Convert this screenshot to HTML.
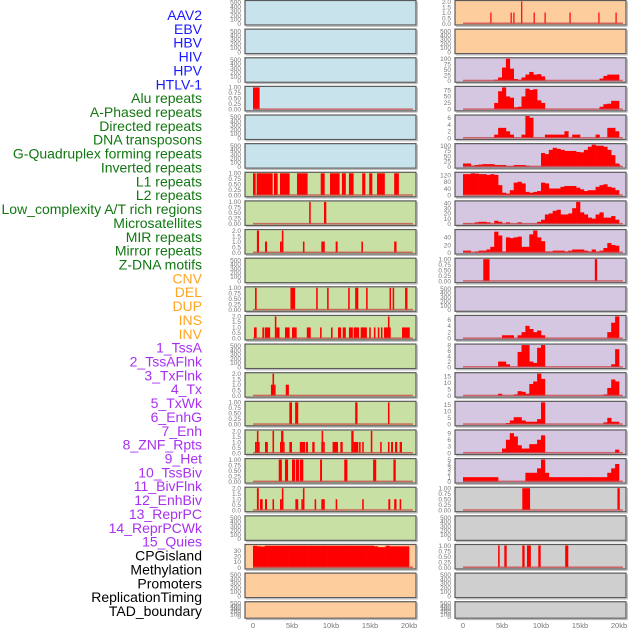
<!DOCTYPE html>
<html><head><meta charset="utf-8"><style>
html,body{margin:0;padding:0;background:#fff;}
svg{display:block;font-family:"Liberation Sans",sans-serif;}
</style></head><body>
<svg id="chart" width="630" height="630" viewBox="0 0 630 630" xmlns="http://www.w3.org/2000/svg"></svg>
<script>
const rowLabels = ["AAV2","EBV","HBV","HIV","HPV","HTLV-1","Alu repeats","A-Phased repeats","Directed repeats","DNA transposons","G-Quadruplex forming repeats","Inverted repeats","L1 repeats","L2 repeats","Low_complexity A/T rich regions","Microsatellites","MIR repeats","Mirror repeats","Z-DNA motifs","CNV","DEL","DUP","INS","INV","1_TssA","2_TssAFlnk","3_TxFlnk","4_Tx","5_TxWk","6_EnhG","7_Enh","8_ZNF_Rpts","9_Het","10_TssBiv","11_BivFlnk","12_EnhBiv","13_ReprPC","14_ReprPCWk","15_Quies","CPGisland","Methylation","Promoters","ReplicationTiming","TAD_boundary"];
const labelGroups = ["v","v","v","v","v","v","r","r","r","r","r","r","r","r","r","r","r","r","r","c","c","c","c","c","h","h","h","h","h","h","h","h","h","h","h","h","h","h","h","o","o","o","o","o"];
const xTicks = [0,5,10,15,20];
const xTickLabels = ["0","5kb","10kb","15kb","20kb"];
const emptyTicks = [0,100,200,300,400,500];
const binTicks = [0,0.25,0.5,0.75,1];
const binTickLabels = ["0.00","0.25","0.50","0.75","1.00"];
const spikeTicks = [0,0.5,1,1.5,2];
const spikeTickLabels = ["0.0","0.5","1.0","1.5","2.0"];

// left column bar data [startKb, endKb, value]
const L3_bars = [[0,0.85,1]];
const L6_bars = [[0,0.34,1],[0.47,2.52,1],[2.69,3.16,1],[3.46,4.7,1],[5.64,7.0,1],[8.68,9.19,1],[9.87,11.1,1],[11.4,11.9,1],[12.3,12.9,1],[14.0,14.4,1],[14.9,15.3,1],[15.9,16.9,1],[18.1,18.7,1]];
const L7_bars = [[7.2,7.4,1],[9.1,9.4,1]];
const L8_bars = [[0.5,0.77,2],[1.54,1.8,1],[3.46,3.7,1],[3.7,3.9,2],[6.4,6.6,1],[8.76,9.2,1],[10.6,10.85,1],[13.9,14.1,1],[18.1,18.4,1]];
const L10_bars = [[0.26,0.47,1],[4.8,5.4,1],[8.1,8.3,1],[9.5,9.7,1],[12.2,12.4,1],[13.1,13.5,1],[14.5,14.7,1],[17.5,17.7,1],[17.9,18.1,1],[19.5,19.8,1]];
const L11_bars = [[0.13,0.47,1],[1.2,1.41,1],[1.5,2.2,1],[2.8,3.0,2],[3.0,3.4,1],[4.1,4.7,1],[5.0,5.6,1],[6.9,7.4,1],[8.6,8.8,1],[10.0,10.2,1],[10.9,11.3,1],[11.5,11.9,1],[12.3,12.8,1],[12.9,13.6,1],[13.8,14.6,1],[14.9,15.1,1],[15.5,15.7,1],[16.0,16.2,1],[16.4,16.6,1],[16.8,17.3,1],[17.3,17.5,2],[17.5,17.6,1],[19.1,20.1,1]];
const L13_bars = [[2.3,2.5,1],[2.5,2.7,2],[2.7,2.9,1],[4.2,4.6,1]];
const L14_bars = [[4.66,5.0,1],[5.4,5.8,1],[13.1,13.4,1],[17.3,17.5,1]];
const L15_bars = [[0.26,0.5,1],[0.5,0.7,2],[0.7,0.77,1],[1.54,1.9,1],[2.5,2.7,2],[3.46,3.6,1],[3.6,3.9,2],[3.9,4.0,1],[4.66,5.0,1],[6.0,6.7,1],[6.8,7.05,1],[7.6,7.9,1],[8.76,8.8,1],[8.8,9.0,2],[9.0,9.2,1],[10.2,10.9,1],[11.2,11.5,1],[12.6,12.9,2],[12.9,13.5,1],[13.6,13.8,1],[14.0,14.2,1],[15.1,15.3,2],[16.3,16.5,1],[17.3,17.5,1],[17.7,17.95,1],[18.2,18.5,1],[18.8,19.1,1]];
const L16_bars = [[3.3,3.7,1],[4.1,4.5,1],[5.0,5.4,1],[5.5,5.9,1],[6.0,6.45,1],[8.6,8.85,1],[11.7,12.1,1],[15.4,15.8,1],[18.0,18.3,1]];
const L17_bars = [[0.5,0.74,2],[0.9,1.24,1],[1.54,1.8,1],[2.5,2.7,1],[3.46,3.7,1],[3.7,3.9,2],[5.43,5.8,1],[6.2,6.4,1],[6.4,6.6,2],[7.9,8.1,1],[8.76,9.2,1],[10.6,10.8,1],[14.0,14.2,1],[17.35,17.6,1],[18.1,18.4,1],[18.8,19.0,1]];
// right column bar data
const R0_bars = [[3.5,3.65,1],[6.1,6.25,1],[6.45,6.6,1],[7.45,7.6,2],[9.05,9.2,1],[10.45,10.6,1],[13.65,13.8,1],[17.35,17.5,1],[19.55,19.7,1]];
const R9_bars = [[2.6,3.4,1],[16.9,17.2,1]];
const R17_bars = [[7.6,8.6,1],[19.8,20.1,1]];
const R19_bars = [[4.5,4.7,1],[5.3,5.6,1],[7.6,7.9,1],[8.2,8.7,1],[9.65,9.96,1],[13.1,13.5,1]];

// histogram data: 41 bins of 0.5kb starting at 0
const L19_hist = [38.5,37.5,37,38.5,38.5,38.5,38.5,38.5,38.5,38.5,38.5,38.5,38.5,38.5,38.5,38.5,38.5,38.5,38.5,38.5,38.5,38.5,38.5,38.5,38.5,38.5,38.5,38.5,38.5,38.5,38.5,37.5,36,36,38.5,37.5,37.5,37.5,37.5,37.5,0];
const R2_hist = [0,0,0,0,0,0,0,0,5,15,60,100,55,8,5,15,28,40,28,30,20,0,0,0,0,0,0,0,0,0,0,0,0,0,0,10,22,28,28,28,0];
const R3_hist = [0,0,0,0,0,0,0,0,25,70,85,50,45,8,10,50,80,75,78,35,25,0,0,0,0,0,0,0,0,0,0,0,0,0,0,10,20,22,33,33,0];
const R4_hist = [0,0,0,0,0,0,0,0,1,3,3,2,1,0,0,1,6.5,6,0,0,0,1,1,1,1,1,2,0,1,1,0,0,0,0,1,0,0,3,3,2,0];
const R5_hist = [15,15,5,8,10,12,12,12,8,8,8,2,2,8,8,8,5,0,0,0,65,60,80,90,85,80,75,75,75,70,68,80,95,105,100,100,95,80,55,15,10];
const R6_hist = [125,125,130,128,125,125,120,125,120,60,15,10,30,75,80,70,20,15,20,25,75,70,40,40,40,50,55,55,55,45,35,25,30,30,50,60,65,50,45,30,0];
const R7_hist = [1,1,0,3,4,4,3,0,6,4,0,3,0,0,3,0,0,0,0,4,8,18,20,25,27,18,18,20,30,42,22,18,12,10,18,22,12,12,15,8,0];
const R8_hist = [5,5,0,3,5,5,8,15,55,45,3,40,38,40,42,15,15,48,58,40,30,3,3,5,5,5,3,5,8,8,8,5,3,8,3,5,12,25,20,18,0];
const R11_hist = [0,0,0,0,0,0,0,0,0,0,1,1,1,0,1,2,4,3,2,2.5,1,0,0,0,0,0,0,0,0,0,0,0,0,0,0,0,0,2,5,7,0];
const R12_hist = [0,0,0,0,0,0,0,0,0,2,2,1,0,0,5.5,8,8,2,1.5,7,8,0,0,0,0,0,0,0,0,0,0,0,0,0,0,0,0,0,1,6.5,0];
const R13_hist = [0,0,0,0,0,0,0,0,0,1.5,0,0,0,1,3.5,3,1.5,9,11,17,13,0,0,0,0,0,0,0,0,0,0,0,0,0,0,0,1,6,12.5,11,0];
const R14_hist = [0,0,0,0,0,0,0,0,0,0,0,1,3,5.5,5.5,3,2,2,2,4,17,0,0,0,0,0,0,0,0,0,0,0,0,0,0,0,1.5,5,2,2,0];
const R15_hist = [0,0,0,0,0,0,0,0,0,0,2,6,9,7.5,3.5,2,2,4,4,6,8,0,0,0,0,0,0,0,0,0,0,0,0,0,0,0,0,0,0,1.5,0];
const R16_hist = [1,1,1,1,1,1,1,1,1,0,0,0,0,0,0,0,2,2,2,3,5,2,1,1,1,1,1,1,1,1,1,1,1,1,1,1,1,2,3,4,0];

const BG = {v:"#c8e3eb", r:"#c9e0a5", c:"#fecd9d", h:"#d5c6e1", o:"#cfcfcf"};
const LABEL_COLORS = {v:"#1a1aff", r:"#117711", c:"#ffa520", h:"#a830f0", o:"#000000"};

function E(){return {type:"empty", max:520, ticks:emptyTicks, tl:emptyTicks.map(String)};}
function B(d){return {type:"bars", data:d, max:1, ticks:binTicks, tl:binTickLabels};}
function S(d){return {type:"bars", data:d, max:2, ticks:spikeTicks, tl:spikeTickLabels};}
function H(d,max,ticks){return {type:"hist", data:d, max:max, ticks:ticks, tl:ticks.map(String)};}

const leftPanels = [
 ["v",E()],["v",E()],["v",E()],["v",B(L3_bars)],["v",E()],["v",E()],
 ["r",B(L6_bars)],["r",B(L7_bars)],["r",S(L8_bars)],["r",E()],["r",B(L10_bars)],["r",S(L11_bars)],["r",E()],
 ["r",S(L13_bars)],["r",B(L14_bars)],["r",S(L15_bars)],["r",B(L16_bars)],["r",S(L17_bars)],["r",E()],
 ["c",H(L19_hist,39,[0,10,20,30])],["c",E()],["c",E()]
];
const rightPanels = [
 ["c",S(R0_bars)],["c",E()],
 ["h",H(R2_hist,100,[0,25,50,75,100])],["h",H(R3_hist,85,[0,25,50,75])],["h",H(R4_hist,6.5,[0,2,4,6])],
 ["h",H(R5_hist,105,[0,25,50,75,100])],["h",H(R6_hist,130,[0,40,80,120])],["h",H(R7_hist,42,[0,10,20,30,40])],
 ["h",H(R8_hist,58,[0,20,40])],["h",B(R9_bars)],["h",E()],["h",H(R11_hist,7,[0,2,4,6])],
 ["h",H(R12_hist,8,[0,2,4,6,8])],["h",H(R13_hist,17,[0,5,10,15])],["h",H(R14_hist,17,[0,5,10,15])],
 ["h",H(R15_hist,10,[0,3,6,9])],["h",H(R16_hist,5,[0,1,2,3,4,5])],
 ["o",B(R17_bars)],["o",E()],["o",B(R19_bars)],["o",E()],["o",E()]
];

const NS = "http://www.w3.org/2000/svg";
const svg = document.getElementById("chart");
function mk(tag, attrs, parent){
  const el = document.createElementNS(NS, tag);
  for (const k in attrs) el.setAttribute(k, attrs[k]);
  (parent||svg).appendChild(el);
  return el;
}

// row labels
rowLabels.forEach((t,i)=>{
  const el = mk("text",{x:202,y:15+13.86*i+5,"text-anchor":"end","font-size":"14",fill:LABEL_COLORS[labelGroups[i]]});
  
  
  el.textContent = t;
});

const PW = 171;
function kbScale(x0){ return kb => x0 + 8 + kb*7.8; }

function drawPanel(col, idx, group, p){
  const x0 = col===0 ? 245 : 455;
  const top = 28.63*idx + 0.5;
  const h = idx===21 ? 16.5 : 24.5;
  const xs = kbScale(x0);
  const yb = top + h - 1.5, yt = top + 1;
  const ys = v => yb - (v/p.max)*(yb-yt);
  const g = mk("g",{});
  
  
  const bg = mk("rect",{x:x0,y:top,width:PW,height:h,fill:BG[group],stroke:"#5a5a5a","stroke-width":"1.2"},g);
  
  
  mk("line",{x1:x0+PW+1.3,y1:top+1,x2:x0+PW+1.3,y2:top+h+1.3,stroke:"#bbbbbb","stroke-width":"1.2"},g);
  mk("line",{x1:x0+1,y1:top+h+1.3,x2:x0+PW+1.3,y2:top+h+1.3,stroke:"#bbbbbb","stroke-width":"1.2"},g);
  // y ticks
  p.ticks.forEach((t,k)=>{
    const tx = mk("text",{x:x0-4,y:ys(t)+2.3,"text-anchor":"end","font-size":"6.5",fill:"#777"},g);
    
    
    tx.textContent = p.tl[k];
  });
  if (p.type==="empty") return;
  if (p.type==="bars"){
    p.data.forEach(d=>{
      const r = mk("rect",{x:xs(d[0]),y:ys(d[2]),width:Math.max(1.2,xs(d[1])-xs(d[0])),height:yb-ys(d[2]),fill:"#ff0000"},g);
      
      
    });
  } else {
    p.data.forEach((v,i)=>{
      if (v<=0) return;
      const a = xs(i*0.5), b = xs(Math.min(20.1,i*0.5+0.5));
      const r = mk("rect",{x:a,y:ys(v),width:b-a+0.3,height:yb-ys(v),fill:"#ff0000"},g);
      
      
    });
  }
  const bl = mk("rect",{x:xs(0),y:yb-1,width:xs(20.5)-xs(0),height:1.5,fill:"#c84848","fill-opacity":"0.8"},g);
  
  
}
leftPanels.forEach((p,i)=>drawPanel(0,i,p[0],p[1]));
rightPanels.forEach((p,i)=>drawPanel(1,i,p[0],p[1]));

// x axes
[245,455].forEach((x0,c)=>{
  const xs = kbScale(x0);
  xTicks.forEach((t,k)=>{
    const tx = mk("text",{x:xs(t),y:628,"text-anchor":"middle","font-size":"7.5",fill:"#777"});
    
    
    tx.textContent = xTickLabels[k];
  });
});
</script>
</body></html>
